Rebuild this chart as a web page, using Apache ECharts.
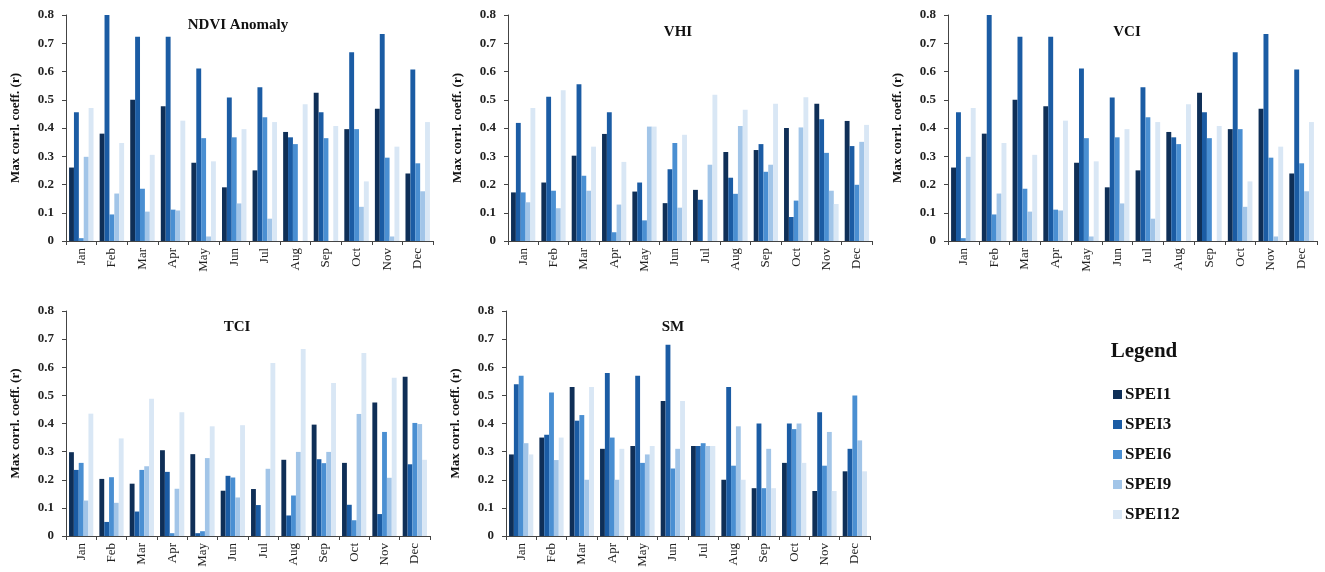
<!DOCTYPE html>
<html lang="en">
<head>
    <meta charset="UTF-8">
    <title>Max correlation coefficient by month</title>
    <script src="https://cdn.jsdelivr.net/npm/echarts@6/dist/echarts.min.js"></script>
    <style>
        html, body { margin: 0; padding: 0; background: #fff; }
    </style>
</head>
<body>
    <div id="main" style="width: 1325px;height:572px;"></div>
</body>

<script>
  // categories
  const months = ['Jan', 'Feb', 'Mar', 'Apr', 'May', 'Jun', 'Jul', 'Aug', 'Sep', 'Oct', 'Nov', 'Dec']
  const spei = ['SPEI1', 'SPEI3', 'SPEI6', 'SPEI9', 'SPEI12']
  const yTicks = [0, 0.1, 0.2, 0.3, 0.4, 0.5, 0.6, 0.7, 0.8]

  // one row per SPEI scale (1, 3, 6, 9, 12), one value per month
  const ndvi = [
    [0.26, 0.38, 0.50, 0.477, 0.277, 0.19, 0.25, 0.386, 0.525, 0.396, 0.468, 0.239],
    [0.456, 0.80, 0.723, 0.723, 0.611, 0.508, 0.544, 0.367, 0.456, 0.668, 0.733, 0.607],
    [0.01, 0.094, 0.185, 0.111, 0.364, 0.367, 0.438, 0.343, 0.364, 0.396, 0.295, 0.275],
    [0.298, 0.168, 0.104, 0.108, 0.016, 0.133, 0.079, 0, 0, 0.121, 0.016, 0.176],
    [0.471, 0.347, 0.305, 0.426, 0.282, 0.396, 0.421, 0.484, 0.407, 0.211, 0.334, 0.421]
  ]
  const vhi = [
    [0.172, 0.207, 0.302, 0.379, 0.175, 0.134, 0.181, 0.315, 0.322, 0.40, 0.486, 0.425],
    [0.418, 0.511, 0.555, 0.456, 0.207, 0.254, 0.146, 0.224, 0.343, 0.085, 0.431, 0.336],
    [0.172, 0.178, 0.231, 0.031, 0.073, 0.347, 0, 0.167, 0.245, 0.143, 0.312, 0.199],
    [0.137, 0.116, 0.178, 0.129, 0.405, 0.118, 0.27, 0.407, 0.27, 0.402, 0.178, 0.351],
    [0.471, 0.534, 0.334, 0.28, 0.405, 0.376, 0.518, 0.465, 0.486, 0.509, 0.131, 0.411]
  ]
  const vci = [
    [0.26, 0.38, 0.50, 0.477, 0.277, 0.19, 0.25, 0.386, 0.525, 0.396, 0.468, 0.239],
    [0.456, 0.80, 0.723, 0.723, 0.611, 0.508, 0.544, 0.367, 0.456, 0.668, 0.733, 0.607],
    [0.01, 0.094, 0.185, 0.111, 0.364, 0.367, 0.438, 0.343, 0.364, 0.396, 0.295, 0.275],
    [0.298, 0.168, 0.104, 0.108, 0.016, 0.133, 0.079, 0, 0, 0.121, 0.016, 0.176],
    [0.471, 0.347, 0.305, 0.426, 0.282, 0.396, 0.421, 0.484, 0.407, 0.211, 0.334, 0.421]
  ]
  const tci = [
    [0.298, 0.203, 0.186, 0.305, 0.291, 0.161, 0.167, 0.271, 0.396, 0.26, 0.475, 0.566],
    [0.235, 0.05, 0.087, 0.228, 0.01, 0.214, 0.11, 0.073, 0.273, 0.111, 0.078, 0.255],
    [0.26, 0.209, 0.235, 0.01, 0.017, 0.208, 0, 0.144, 0.259, 0.056, 0.37, 0.402],
    [0.126, 0.118, 0.248, 0.168, 0.277, 0.137, 0.239, 0.299, 0.299, 0.434, 0.207, 0.398],
    [0.435, 0.347, 0.488, 0.44, 0.39, 0.394, 0.615, 0.665, 0.544, 0.651, 0.563, 0.271]
  ]
  const sm = [
    [0.29, 0.35, 0.53, 0.31, 0.32, 0.48, 0.32, 0.20, 0.17, 0.26, 0.16, 0.23],
    [0.54, 0.36, 0.41, 0.58, 0.57, 0.68, 0.32, 0.53, 0.40, 0.40, 0.44, 0.31],
    [0.57, 0.51, 0.43, 0.35, 0.26, 0.24, 0.33, 0.25, 0.17, 0.38, 0.25, 0.50],
    [0.33, 0.27, 0.20, 0.20, 0.29, 0.31, 0.32, 0.39, 0.31, 0.40, 0.37, 0.34],
    [0.29, 0.35, 0.53, 0.31, 0.32, 0.48, 0.32, 0.20, 0.17, 0.26, 0.16, 0.23]
  ]

  const panels = [
    { title: 'NDVI Anomaly', data: ndvi, grid: { left: 66, top: 15, width: 367, height: 226 }, tx: 238, ty: 25 },
    { title: 'VHI', data: vhi, grid: { left: 508, top: 15, width: 364, height: 226 }, tx: 678, ty: 32 },
    { title: 'VCI', data: vci, grid: { left: 948, top: 15, width: 369, height: 226 }, tx: 1127, ty: 32 },
    { title: 'TCI', data: tci, grid: { left: 66, top: 311, width: 364, height: 225 }, tx: 237, ty: 327 },
    { title: 'SM', data: sm, grid: { left: 506, top: 311, width: 364, height: 225 }, tx: 673, ty: 327 }
  ]

  const colors = ['#0f2f57', '#1b5ca4', '#4a8fd2', '#a2c5e8', '#d9e7f5']
  const serif = '"Liberation Serif", "DejaVu Serif", serif'

  const myChart = echarts.init(document.getElementById('main'))

  const grids = []
  const xAxes = []
  const yAxes = []
  const series = []
  const graphics = []

  panels.forEach((p, i) => {
    grids.push({ ...p.grid, containLabel: false })
    xAxes.push({
      type: 'category',
      gridIndex: i,
      data: months,
      axisLine: { lineStyle: { color: '#444', width: 1 } },
      axisTick: { show: true, inside: false, length: 4, lineStyle: { color: '#444' } },
      axisLabel: {
        rotate: 90,
        margin: 7,
        fontFamily: serif,
        fontSize: 13,
        color: '#222'
      }
    })
    yAxes.push({
      type: 'value',
      gridIndex: i,
      min: 0,
      max: 0.8,
      interval: 0.1,
      name: 'Max corrl. coeff. (r)',
      nameLocation: 'middle',
      nameRotate: 90,
      nameGap: 44,
      nameTextStyle: { fontFamily: serif, fontSize: 13, fontWeight: 'bold', color: '#111' },
      splitLine: { show: false },
      axisLine: { show: true, lineStyle: { color: '#444', width: 1 } },
      axisTick: { show: true, length: 4, lineStyle: { color: '#444' } },
      axisLabel: {
        fontFamily: serif,
        fontSize: 13,
        fontWeight: 'bold',
        color: '#222',
        margin: 12,
        formatter: v => {
          const t = yTicks.find(k => Math.abs(k - v) < 1e-6)
          return t === 0 ? '0' : String(t)
        }
      }
    })
    p.data.forEach((vals, s) => {
      series.push({
        type: 'bar',
        name: spei[s],
        xAxisIndex: i,
        yAxisIndex: i,
        data: vals,
        barGap: '0%',
        barCategoryGap: '20%',
        itemStyle: { color: colors[s] },
        emphasis: { disabled: true }
      })
    })
    graphics.push({
      type: 'text',
      x: p.tx,
      y: p.ty,
      style: {
        text: p.title,
        font: 'bold 15px ' + serif,
        fill: '#111',
        align: 'center',
        verticalAlign: 'middle'
      }
    })
  })

  // legend heading
  graphics.push({
    type: 'text',
    x: 1144,
    y: 352,
    style: {
      text: 'Legend',
      font: 'bold 21px ' + serif,
      fill: '#111',
      align: 'center',
      verticalAlign: 'middle'
    }
  })

  const option = {
    animation: false,
    color: colors,
    grid: grids,
    xAxis: xAxes,
    yAxis: yAxes,
    series: series,
    graphic: graphics,
    legend: {
      orient: 'vertical',
      left: 1108,
      top: 381,
      data: spei,
      icon: 'rect',
      itemWidth: 9,
      itemHeight: 9,
      itemGap: 13,
      selectedMode: false,
      textStyle: { fontFamily: serif, fontSize: 17, fontWeight: 'bold', color: '#111', lineHeight: 17, padding: [0, 0, 0, -2] }
    }
  }

  myChart.setOption(option)
</script>

</html>
